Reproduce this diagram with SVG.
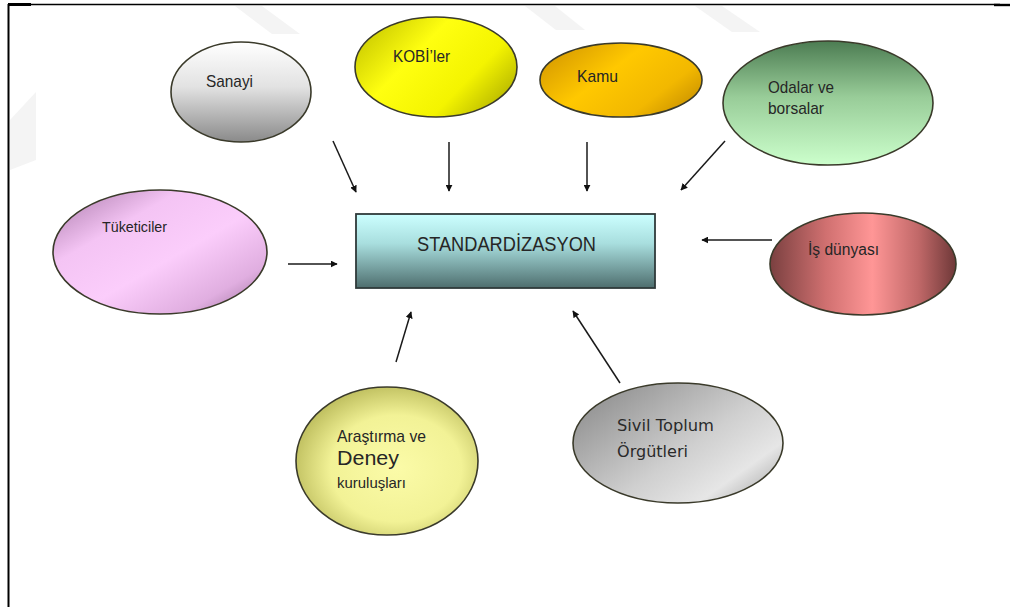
<svg xmlns="http://www.w3.org/2000/svg" width="1010" height="607" viewBox="0 0 1010 607">
  <style>
    .lbl { font-family: "Liberation Sans", Arial, sans-serif; fill: #262626; }
    .lbl2 { font-family: "DejaVu Sans", "Noto Sans", sans-serif; fill: #2a2a2a; }
    .node { stroke: #3a3a2a; stroke-width: 1.6; }
    .conn { stroke: #1a1a1a; stroke-width: 1.5; fill: none; marker-end: url(#head); }
    .frame { stroke: #000; fill: none; }
    .mark { fill: #f4f4f4; }
  </style>
  <defs>
    <marker id="head" viewBox="0 0 10 10" refX="9" refY="5" markerWidth="7" markerHeight="7" markerUnits="userSpaceOnUse" orient="auto">
      <path d="M0,0 L10,5 L0,10 z" fill="#111"/>
    </marker>
    <linearGradient id="gSanayi" x1="0" y1="0" x2="0" y2="1">
      <stop offset="0" stop-color="#ffffff"/>
      <stop offset="0.45" stop-color="#e2e2e2"/>
      <stop offset="1" stop-color="#8a8a8a"/>
    </linearGradient>
    <linearGradient id="gKobi" x1="0" y1="0.2" x2="1" y2="0.8">
      <stop offset="0" stop-color="#c8c800"/>
      <stop offset="0.35" stop-color="#ffff10"/>
      <stop offset="0.7" stop-color="#f4f400"/>
      <stop offset="1" stop-color="#b0b000"/>
    </linearGradient>
    <linearGradient id="gKamu" x1="0" y1="0.2" x2="1" y2="0.8">
      <stop offset="0" stop-color="#d69a00"/>
      <stop offset="0.4" stop-color="#ffc800"/>
      <stop offset="0.75" stop-color="#f2b800"/>
      <stop offset="1" stop-color="#c89000"/>
    </linearGradient>
    <linearGradient id="gOdalar" x1="0" y1="0" x2="0" y2="1">
      <stop offset="0" stop-color="#4c7c52"/>
      <stop offset="0.45" stop-color="#98cc98"/>
      <stop offset="1" stop-color="#ccffcc"/>
    </linearGradient>
    <linearGradient id="gTuketici" x1="0" y1="0" x2="1" y2="1">
      <stop offset="0" stop-color="#a878a8"/>
      <stop offset="0.3" stop-color="#f4c4f4"/>
      <stop offset="0.55" stop-color="#fbcdfb"/>
      <stop offset="0.8" stop-color="#e0aee0"/>
      <stop offset="1" stop-color="#946894"/>
    </linearGradient>
    <linearGradient id="gStd" x1="0" y1="0" x2="0" y2="1">
      <stop offset="0" stop-color="#ccffff"/>
      <stop offset="0.4" stop-color="#a8dede"/>
      <stop offset="1" stop-color="#4e6e6e"/>
    </linearGradient>
    <linearGradient id="gIs" x1="0" y1="0" x2="1" y2="0">
      <stop offset="0" stop-color="#7a4040"/>
      <stop offset="0.3" stop-color="#d07070"/>
      <stop offset="0.55" stop-color="#ff9696"/>
      <stop offset="0.8" stop-color="#c06868"/>
      <stop offset="1" stop-color="#6e3838"/>
    </linearGradient>
    <radialGradient id="gArastirma" cx="0.55" cy="0.55" r="0.6">
      <stop offset="0" stop-color="#fbfba8"/>
      <stop offset="0.6" stop-color="#f2f296"/>
      <stop offset="1" stop-color="#b8b858"/>
    </radialGradient>
    <linearGradient id="gSivil" x1="0" y1="0.1" x2="1" y2="0.9">
      <stop offset="0" stop-color="#8a8a8a"/>
      <stop offset="0.55" stop-color="#cfcfcf"/>
      <stop offset="0.8" stop-color="#e6e6e6"/>
      <stop offset="1" stop-color="#a8a8a8"/>
    </linearGradient>
  </defs>

  <rect width="1010" height="607" fill="#ffffff"/>

  <!-- faint background emblem -->
  <g id="emblem">
    <path class="mark" d="M235,6 L262,6 L300,34 L272,34 z"/>
    <path class="mark" d="M525,6 L555,6 L585,30 L556,30 z"/>
    <path class="mark" d="M695,6 L722,6 L760,32 L732,32 z"/>
    <path class="mark" d="M10,120 L36,92 L36,160 L10,170 z"/>
  </g>

  <!-- page frame -->
  <g id="frame">
    <line class="frame" x1="8" y1="4.5" x2="1000" y2="4.5" stroke-width="1.6"/>
    <line class="frame" x1="8" y1="4.5" x2="31" y2="4.5" stroke-width="3"/>
    <line class="frame" x1="994" y1="5" x2="1010" y2="5" stroke-width="2.4"/>
    <line class="frame" x1="8.5" y1="4" x2="8.5" y2="607" stroke-width="2"/>
  </g>

  <!-- connectors -->
  <g id="connectors">
    <line class="conn" x1="333" y1="141" x2="356" y2="192"/>
    <line class="conn" x1="449" y1="142" x2="449" y2="191"/>
    <line class="conn" x1="587" y1="142" x2="587" y2="191"/>
    <line class="conn" x1="725" y1="141" x2="681" y2="190"/>
    <line class="conn" x1="288" y1="264" x2="337" y2="264"/>
    <line class="conn" x1="772" y1="240" x2="702" y2="240"/>
    <line class="conn" x1="396" y1="362" x2="411" y2="312"/>
    <line class="conn" x1="620" y1="383" x2="573" y2="311"/>
  </g>

  <g id="standardizasyon">
    <rect x="356" y="214" width="299" height="74" fill="url(#gStd)" stroke="#2f3a3a" stroke-width="1.8"/>
    <text class="lbl" x="417" y="251" font-size="21" textLength="179" lengthAdjust="spacingAndGlyphs">STANDARDİZASYON</text>
  </g>

  <g id="sanayi">
    <ellipse class="node" cx="241" cy="92" rx="70" ry="50" fill="url(#gSanayi)" stroke="#333"/>
    <text class="lbl" x="206" y="87" font-size="17" textLength="47" lengthAdjust="spacingAndGlyphs">Sanayi</text>
  </g>

  <g id="kobiler">
    <ellipse class="node" cx="436" cy="67" rx="81" ry="50" fill="url(#gKobi)"/>
    <text class="lbl" x="393" y="62" font-size="16" textLength="57" lengthAdjust="spacingAndGlyphs">KOBİ’ler</text>
  </g>

  <g id="kamu">
    <ellipse class="node" cx="621" cy="80" rx="81" ry="37" fill="url(#gKamu)"/>
    <text class="lbl" x="577" y="82" font-size="17" textLength="41" lengthAdjust="spacingAndGlyphs">Kamu</text>
  </g>

  <g id="odalar">
    <ellipse class="node" cx="828" cy="103" rx="105" ry="62" fill="url(#gOdalar)"/>
    <text class="lbl" x="768" y="93" font-size="17" textLength="66" lengthAdjust="spacingAndGlyphs">Odalar ve</text>
    <text class="lbl" x="768" y="114" font-size="17" textLength="56" lengthAdjust="spacingAndGlyphs">borsalar</text>
  </g>

  <g id="tuketiciler">
    <ellipse class="node" cx="160" cy="252" rx="107" ry="62" fill="url(#gTuketici)" stroke="#3a2a3a"/>
    <text class="lbl" x="102" y="232" font-size="15" textLength="65" lengthAdjust="spacingAndGlyphs">Tüketiciler</text>
  </g>

  <g id="isdunyasi">
    <ellipse class="node" cx="863" cy="264" rx="93" ry="51" fill="url(#gIs)" stroke="#3a2222"/>
    <text class="lbl" x="808" y="255" font-size="16" textLength="71" lengthAdjust="spacingAndGlyphs">İş dünyası</text>
  </g>

  <g id="arastirma">
    <ellipse class="node" cx="387" cy="461" rx="91" ry="74" fill="url(#gArastirma)"/>
    <text class="lbl" x="337" y="442" font-size="17" textLength="89" lengthAdjust="spacingAndGlyphs">Araştırma ve</text>
    <text class="lbl" x="337" y="465" font-size="20" textLength="62" lengthAdjust="spacingAndGlyphs">Deney</text>
    <text class="lbl" x="337" y="488" font-size="15" textLength="69" lengthAdjust="spacingAndGlyphs">kuruluşları</text>
  </g>

  <g id="sivil">
    <ellipse class="node" cx="678" cy="443" rx="105" ry="60" fill="url(#gSivil)" stroke="#333"/>
    <text class="lbl2" x="617" y="431" font-size="16" textLength="97" lengthAdjust="spacingAndGlyphs">Sivil Toplum</text>
    <text class="lbl2" x="617" y="457" font-size="16" textLength="71" lengthAdjust="spacingAndGlyphs">Örgütleri</text>
  </g>
</svg>
